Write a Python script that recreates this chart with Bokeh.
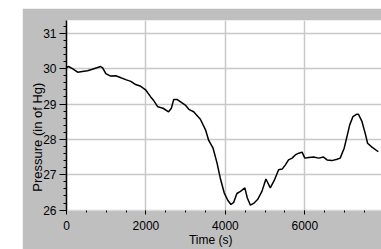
from bokeh.plotting import figure
from bokeh.models import Range1d, SingleIntervalTicker
from bokeh.embed import file_html
from bokeh.resources import INLINE

# Time (s)
time = [0, 50, 150, 280, 400, 530, 650, 860, 910, 990,
        1110, 1240, 1370, 1490, 1620, 1740, 1870, 2000, 2120, 2200,
        2300, 2430, 2570, 2640, 2700, 2780, 2910, 2990, 3080, 3200,
        3370, 3500, 3580, 3690, 3790, 3870, 3970, 4060, 4140, 4210,
        4290, 4380, 4490, 4550, 4630, 4710, 4810, 4920, 5020, 5130,
        5230, 5340, 5430, 5510, 5590, 5680, 5760, 5850, 5930, 6000,
        6100, 6220, 6350, 6470, 6560, 6680, 6810, 6890, 6990, 7060,
        7130, 7210, 7300, 7350, 7440, 7520, 7580, 7690, 7850]
# Pressure (in of Hg)
pressure = [30.03, 30.06, 30.00, 29.90, 29.92, 29.94, 29.98, 30.06, 30.02, 29.86,
            29.79, 29.80, 29.74, 29.69, 29.64, 29.55, 29.50, 29.39, 29.20, 29.09,
            28.92, 28.88, 28.78, 28.88, 29.13, 29.13, 29.03, 28.97, 28.85, 28.78,
            28.57, 28.27, 27.97, 27.75, 27.33, 26.91, 26.49, 26.28, 26.16, 26.22,
            26.47, 26.53, 26.63, 26.35, 26.14, 26.19, 26.30, 26.53, 26.88, 26.63,
            26.84, 27.14, 27.16, 27.28, 27.42, 27.47, 27.56, 27.61, 27.64, 27.47,
            27.49, 27.50, 27.47, 27.50, 27.42, 27.40, 27.44, 27.47, 27.75, 28.08,
            28.41, 28.64, 28.71, 28.71, 28.50, 28.17, 27.89, 27.78, 27.65]

x_label = "Time  (s)"
y_label = "Pressure  (in of Hg)"

FONT = "Liberation Sans"
PAD = "\u00a0"

p = figure(width=359, height=241, output_backend="svg", toolbar_location=None,
           x_range=Range1d(0, 7930), y_range=Range1d(25.99, 31.36),
           min_border_left=44, min_border_right=0, min_border_top=12,
           min_border_bottom=38)
p.styles = {"margin-left": "22px", "margin-top": "8px"}
p.border_fill_color = "#bfbfbf"
p.background_fill_color = "white"
p.outline_line_color = None

p.line(time, pressure, line_color="black", line_width=1.5)

p.xaxis.ticker = SingleIntervalTicker(interval=2000, num_minor_ticks=4)
p.yaxis.ticker = SingleIntervalTicker(interval=1, num_minor_ticks=5)

for ax in (p.xaxis[0], p.yaxis[0]):
    ax.major_label_text_font = FONT
    ax.major_label_text_font_size = "12px"
    ax.major_label_text_color = "black"
    ax.axis_label_text_font = FONT
    ax.axis_label_text_font_size = "12px"
    ax.axis_label_text_font_style = "normal"
    ax.axis_label_text_color = "black"
    ax.major_tick_line_color = "black"
    ax.minor_tick_line_color = "black"
    ax.major_tick_in = 0
    ax.minor_tick_in = 0

p.xaxis.axis_label = x_label + PAD * 7
p.xaxis.axis_line_color = None
p.xaxis.major_tick_out = 4
p.xaxis.minor_tick_out = 2
p.xaxis.major_label_standoff = 6
p.xaxis.axis_label_standoff = 0

p.yaxis.axis_label = y_label + PAD * 11
p.yaxis.axis_label_text_font_size = "13px"
p.yaxis.axis_line_color = "black"
p.yaxis.axis_line_width = 1.5
p.yaxis.major_tick_out = 7
p.yaxis.minor_tick_out = 3
p.yaxis.major_label_standoff = 3
p.yaxis.axis_label_standoff = -5

p.grid.grid_line_color = "#c8c8c8"
p.grid.grid_line_width = 1.5

open("out.html", "w").write(file_html(p, INLINE))
